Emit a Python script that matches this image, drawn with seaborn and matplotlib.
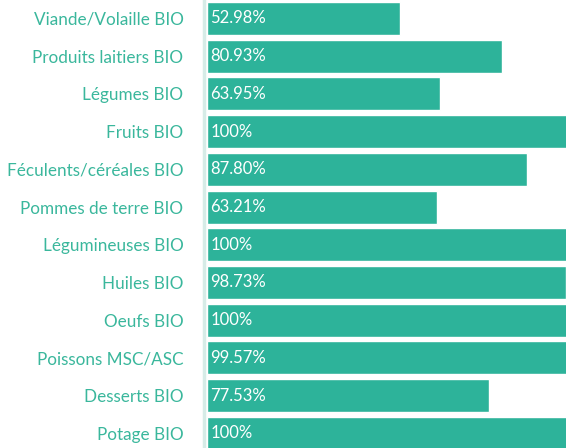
import matplotlib
matplotlib.use('Agg')
import matplotlib.pyplot as plt
import seaborn as sns
import pandas as pd

# ── Data ──────────────────────────────────────────────────────────────────
categories = ['Viande/Volaille BIO', 'Produits laitiers BIO', 'Légumes BIO', 'Fruits BIO',
              'Féculents/céréales BIO', 'Pommes de terre BIO', 'Légumineuses BIO', 'Huiles BIO',
              'Oeufs BIO', 'Poissons MSC/ASC', 'Desserts BIO', 'Potage BIO']
values = [52.98, 80.93, 63.95, 100, 87.80, 63.21, 100, 98.73, 100, 99.57, 77.53, 100]
value_labels = ['52.98%', '80.93%', '63.95%', '100%', '87.80%', '63.21%',
                '100%', '98.73%', '100%', '99.57%', '77.53%', '100%']

df = pd.DataFrame({'cat': categories, 'val': values})

sns.set_style('white')
plt.rcParams['font.family'] = ['Lato', 'DejaVu Sans']

bar_color = '#2db39a'
label_color = '#3ab79c'

fig = plt.figure(figsize=(5.66, 4.48), dpi=100)
ax = fig.add_axes([207 / 566, 0, 359 / 566, 1])

sns.barplot(data=df, x='val', y='cat', color=bar_color, saturation=1,
            width=0.875, ax=ax)

# the 100% bars run past the right edge in the original
ax.set_xlim(0, 98.6)
ax.set_ylim(11.39, -0.49)
ax.set_xlabel('')
ax.set_ylabel('')
ax.set_xticks([])
ax.tick_params(axis='y', length=0, pad=15, labelsize=12.3, labelcolor=label_color)

for s in ['top', 'right', 'bottom']:
    ax.spines[s].set_visible(False)
ax.spines['left'].set_color('#d6ece7')
ax.spines['left'].set_linewidth(2.5)
ax.spines['left'].set_position(('outward', 2))

for i, lab in enumerate(value_labels):
    ax.text(0.9, i, lab, color='white', va='center', ha='left', fontsize=12)

fig.savefig('out.png', dpi=100)
